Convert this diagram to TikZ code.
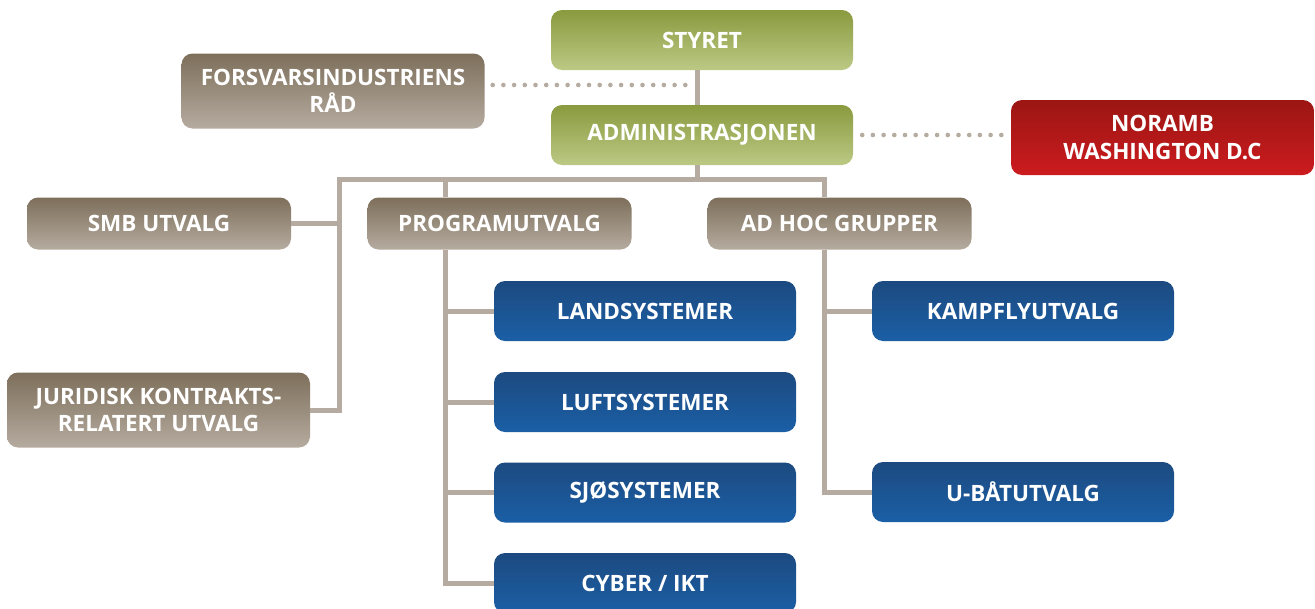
\documentclass[tikz,border=0pt]{standalone}
\usepackage{fontspec}
\setmainfont{Open Sans}
\definecolor{grtop}{HTML}{8A9A3E}
\definecolor{grbot}{HTML}{BBC985}
\definecolor{brtop}{HTML}{7D6F5B}
\definecolor{brbot}{HTML}{B5AB9F}
\definecolor{bltop}{HTML}{1C4A80}
\definecolor{blbot}{HTML}{1B5FA6}
\definecolor{rdtop}{HTML}{9B1613}
\definecolor{rdbot}{HTML}{CC1B1F}
\definecolor{linec}{HTML}{B5ABA0}
\tikzset{
  box/.style={rounded corners=11pt, inner sep=0pt, align=center, text=white,
    font=\bfseries\fontsize{22.5}{27.5}\selectfont},
  wide/.style={minimum width=302pt, minimum height=60pt},
  mid/.style={minimum width=264pt, minimum height=52pt},
  tall/.style={minimum width=303pt, minimum height=75pt},
  greenbox/.style={box, wide, top color=grtop, bottom color=grbot},
  brownbox/.style={box, top color=brtop, bottom color=brbot},
  bluebox/.style={box, wide, top color=bltop, bottom color=blbot},
  redbox/.style={box, tall, top color=rdtop, bottom color=rdbot},
  conn/.style={draw=linec, line width=5pt},
  dots/.style={draw=linec, line width=4.6pt, line cap=round, dash pattern=on 0pt off 10.7pt}
}
\begin{document}
\begin{tikzpicture}[x=1pt, y=-1pt]
\clip (0,0) rectangle (1315,608);
\fill[white] (0,0) rectangle (1315,608);
\coordinate (jA) at (697,179);
\coordinate (jL) at (339,179);
\coordinate (jP) at (445,179);
\coordinate (jR) at (824,179);
\coordinate (dfir) at (690,85);
% boxes
\node[greenbox] (styret) at (702,40) {STYRET};
\node[greenbox] (admin) at (702,135) {ADMINISTRASJONEN};
\node[brownbox, tall] (fir) at (333,91) {FORSVARSINDUSTRIENS\\RÅD};
\node[redbox] (noramb) at (1162.5,137.5) {NORAMB\\WASHINGTON D.C};
\node[brownbox, mid] (smb) at (159,223.5) {SMB UTVALG};
\node[brownbox, mid] (prog) at (499.5,223.5) {PROGRAMUTVALG};
\node[brownbox, mid] (adhoc) at (839.5,223.5) {AD HOC GRUPPER};
\node[brownbox, tall] (jur) at (158.5,410) {JURIDISK KONTRAKTS-\\RELATERT UTVALG};
\node[bluebox] (land) at (645,311) {LANDSYSTEMER};
\node[bluebox] (luft) at (645,402) {LUFTSYSTEMER};
\node[bluebox] (sjo) at (645,492.5) {SJØSYSTEMER};
\node[bluebox] (cyber) at (645,583) {CYBER / IKT};
\node[bluebox] (kamp) at (1023,311) {KAMPFLYUTVALG};
\node[bluebox] (ubat) at (1023,492) {U-BÅTUTVALG};
% connectors
\draw[conn] (styret.south -| jA) -- (admin.north -| jA);
\draw[conn] (admin.south -| jA) -- (jA);
\draw[conn] (adhoc.north -| jR) -- (jR) -- (jL) |- (jur.east);
\draw[conn] (smb.east) -- (smb.east -| jL);
\draw[conn] (jP) -- (prog.north -| jP);
\draw[conn] (prog.south -| jP) |- (cyber.west);
\draw[conn] (land.west) -- (land.west -| jP);
\draw[conn] (luft.west) -- (luft.west -| jP);
\draw[conn] (sjo.west) -- (sjo.west -| jP);
\draw[conn] (adhoc.south -| jR) |- (ubat.west);
\draw[conn] (kamp.west) -- (kamp.west -| jR);
\draw[dots] ([xshift=8pt]fir.east |- dfir) -- (dfir);
\draw[dots] ([xshift=9pt]admin.east) -- ([xshift=-3pt]noramb.west |- admin.east);
\end{tikzpicture}
\end{document}
